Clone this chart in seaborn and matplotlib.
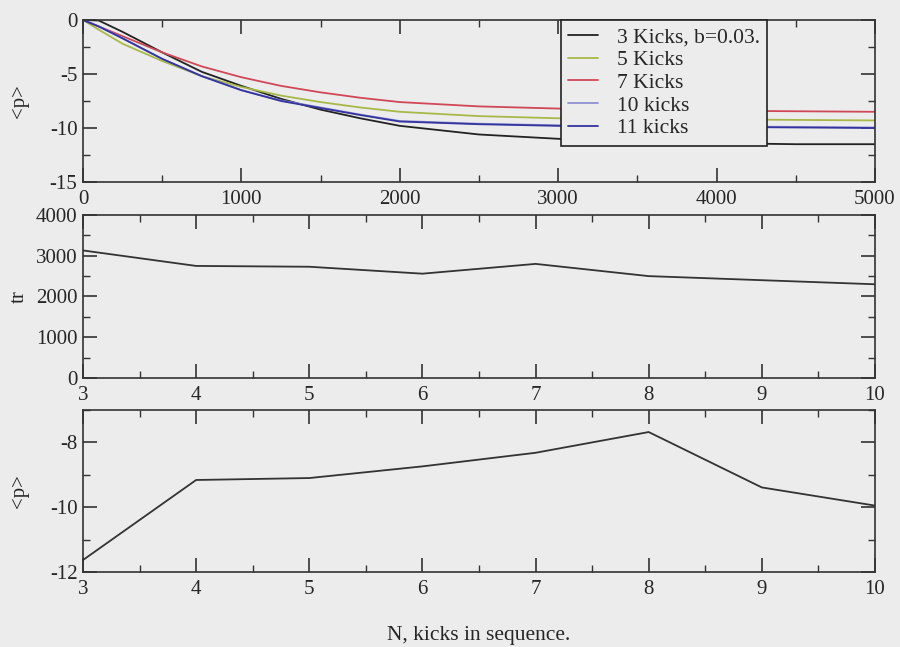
import numpy as np
import pandas as pd
import seaborn as sns
import matplotlib
matplotlib.use("Agg")
import matplotlib.pyplot as plt
from matplotlib.ticker import MultipleLocator

# top panel: <p> against time for several kick sequences
t = [0, 100, 250, 500, 750, 1000, 1250, 1500, 1750, 2000, 2500, 3000, 3500, 4000, 4500, 5000]
p_3 = [0, -0.05, -1.1, -3.0, -4.8, -6.1, -7.3, -8.3, -9.1, -9.8, -10.6, -11.0, -11.3, -11.4, -11.5, -11.5]
p_5 = [0, -0.9, -2.2, -3.8, -5.2, -6.2, -7.0, -7.6, -8.1, -8.5, -8.9, -9.1, -9.15, -9.2, -9.25, -9.3]
p_7 = [0, -0.6, -1.5, -3.0, -4.3, -5.3, -6.1, -6.7, -7.2, -7.6, -8.0, -8.2, -8.3, -8.4, -8.45, -8.5]
p_10 = [0, -0.6, -1.7, -3.6, -5.2, -6.5, -7.45, -8.1, -8.75, -9.35, -9.6, -9.75, -9.8, -9.85, -9.9, -9.95]
p_11 = [0, -0.6, -1.7, -3.6, -5.2, -6.5, -7.5, -8.15, -8.8, -9.4, -9.65, -9.8, -9.85, -9.9, -9.95, -10.0]

# middle and bottom panels: against number of kicks
n_kicks = [3, 4, 5, 6, 7, 8, 9, 10]
tr = [3130, 2750, 2730, 2560, 2800, 2500, 2400, 2300]
p_mean = [-11.63, -9.16, -9.1, -8.74, -8.32, -7.68, -9.39, -9.95]

series = [
    ("3 Kicks, b=0.03.", p_3, "#222222"),
    ("5 Kicks", p_5, "#a8b848"),
    ("7 Kicks", p_7, "#d04858"),
    ("10 kicks", p_10, "#9090d0"),
    ("11 kicks", p_11, "#3434a0"),
]

sns.set_style("ticks")
plt.rcParams['font.family'] = ['Liberation Serif', 'DejaVu Serif']
plt.rcParams['font.size'] = 14
plt.rcParams['axes.unicode_minus'] = False
bg = "#ececec"

fig = plt.figure(figsize=(9, 6.47), dpi=100, facecolor=bg)
ax1 = fig.add_axes([0.0922, 0.7187, 0.8800, 0.2504])
ax2 = fig.add_axes([0.0922, 0.4158, 0.8800, 0.2519])
ax3 = fig.add_axes([0.0922, 0.1159, 0.8800, 0.2504])

for name, vals, col in series:
    sns.lineplot(x=t, y=vals, ax=ax1, color=col, label=name, linewidth=1.3)

sns.lineplot(x=n_kicks, y=tr, ax=ax2, color="#333333", linewidth=1.3)
sns.lineplot(x=n_kicks, y=p_mean, ax=ax3, color="#333333", linewidth=1.3)

ax1.set_xlim(0, 5000)
ax1.set_ylim(-15, 0)
ax1.xaxis.set_major_locator(MultipleLocator(1000))
ax1.xaxis.set_minor_locator(MultipleLocator(500))
ax1.yaxis.set_major_locator(MultipleLocator(5))
ax1.yaxis.set_minor_locator(MultipleLocator(2.5))
ax1.set_ylabel("<p>", fontsize=15)

ax2.set_xlim(3, 10)
ax2.set_ylim(0, 4000)
ax2.xaxis.set_major_locator(MultipleLocator(1))
ax2.xaxis.set_minor_locator(MultipleLocator(0.5))
ax2.yaxis.set_major_locator(MultipleLocator(1000))
ax2.yaxis.set_minor_locator(MultipleLocator(500))
ax2.set_ylabel("tr", fontsize=15)

ax3.set_xlim(3, 10)
ax3.set_ylim(-12, -7)
ax3.xaxis.set_major_locator(MultipleLocator(1))
ax3.xaxis.set_minor_locator(MultipleLocator(0.5))
ax3.yaxis.set_major_locator(MultipleLocator(2))
ax3.yaxis.set_minor_locator(MultipleLocator(1))
ax3.set_ylabel("<p>", fontsize=15)

for ax in (ax1, ax2, ax3):
    ax.yaxis.set_label_coords(-0.068, 0.5)

fig.text(0.532, 0.0185, "N, kicks in sequence.", ha="center", va="center", fontsize=15.5)

for ax in (ax1, ax2, ax3):
    ax.set_facecolor(bg)
    ax.tick_params(which="both", direction="in", top=True, right=True,
                   labelsize=15, color="#333333")
    ax.tick_params(axis="x", pad=6)
    ax.tick_params(axis="y", pad=4)
    ax.tick_params(which="major", length=10, width=1.2)
    ax.tick_params(which="minor", length=5, width=1.0)
    for s in ax.spines.values():
        s.set_color("#333333")
        s.set_linewidth(1.2)

leg = ax1.legend(loc="upper left", bbox_to_anchor=(0.603, 1.0), frameon=True,
                 fancybox=False, edgecolor="#222222", facecolor=bg, framealpha=1,
                 fontsize=15.5, handlelength=1.4, borderaxespad=0, labelspacing=0.12,
                 handletextpad=0.85, borderpad=0.35)
leg.get_frame().set_linewidth(1.2)

fig.savefig("out.png", dpi=100, facecolor=bg)
